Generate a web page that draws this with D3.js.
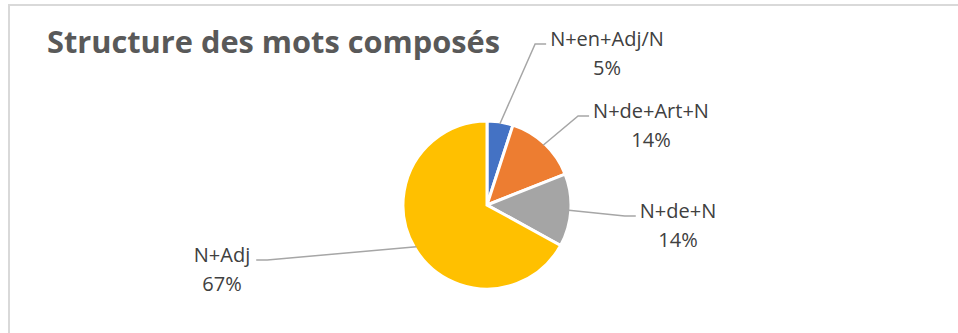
<!DOCTYPE html>
<html>
<head>
<meta charset="utf-8">
<script src="https://cdn.jsdelivr.net/npm/d3@7"></script>
<style>
  body { margin:0; background:#fff; }
  svg text { font-family:"Open Sans", sans-serif; }
</style>
</head>
<body>
<svg id="viz-svg" width="958" height="333"></svg>
<script>
// data
var categories = ["N+en+Adj/N", "N+de+Art+N", "N+de+N", "N+Adj"]
  , values = [5, 14, 14, 67]
  , colors = ["#4472c4", "#ed7d31", "#a5a5a5", "#ffc000"]
  , title = "Structure des mots composés";

var width = 958, height = 333
  , cx = 487, cy = 205, radius = 84
  // label placement (offset of label centre / first baseline from pie centre), Excel "best fit"
  , labelPos = [[120, -159], [164, -87], [191, 13], [-265, 57]];

var svg = d3.select("#viz-svg");

// chart frame (only top and left edges visible in the crop)
svg.append("path")
  .attr("d", "M9," + height + "V5H" + width)
  .attr("fill", "none")
  .attr("stroke", "#d9d9d9")
  .attr("stroke-width", 2);

svg.append("text")
  .attr("x", 47)
  .attr("y", 53)
  .attr("fill", "#595959")
  .attr("font-size", 30)
  .attr("font-weight", "bold")
  .attr("textLength", 453)
  .attr("lengthAdjust", "spacingAndGlyphs")
  .text(title);

var data = categories.map(function(c, i){ return {cat:c, value:values[i], color:colors[i], pos:labelPos[i]}; })
  , total = d3.sum(values)
  , pct = d3.format(".0%");

var pie = d3.pie().sort(null).value(function(d){ return d.value; });
var arc = d3.arc().innerRadius(0).outerRadius(radius);
var edge = d3.arc().innerRadius(radius - 2).outerRadius(radius - 2);

var g = svg.append("g").attr("transform", "translate(" + cx + "," + cy + ")");
var arcs = pie(data);

g.selectAll("path.slice")
  .data(arcs)
  .join("path")
  .attr("class", "slice")
  .attr("d", arc)
  .attr("fill", function(d){ return d.data.color; })
  .attr("stroke", "#fff")
  .attr("stroke-width", 3);

// labels + leader lines
var labels = g.selectAll("g.lab").data(arcs).join("g").attr("class", "lab");

labels.each(function(d){
  var sel = d3.select(this)
    , p = d.data.pos
    , txt = sel.append("text")
        .attr("text-anchor", "middle")
        .attr("fill", "#404040")
        .attr("font-size", 20);
  txt.append("tspan").attr("x", p[0]).attr("y", p[1]).text(d.data.cat);
  txt.append("tspan").attr("x", p[0]).attr("y", p[1] + 29).text(pct(d.data.value / total));

  var w = txt.select("tspan").node().getComputedTextLength()
    , right = p[0] > 0
    , lx = right ? p[0] - w / 2 - 4 : p[0] + w / 2 + 6
    , ly = p[1] - 2
    , s = edge.centroid(d)
    , pts = [s, [lx + (right ? -11 : 11), ly], [lx, ly]];

  sel.insert("polyline", "text")
    .attr("points", pts.map(function(q){ return q.join(","); }).join(" "))
    .attr("fill", "none")
    .attr("stroke", "#a6a6a6")
    .attr("stroke-width", 1.5);
});
</script>
</body>
</html>
